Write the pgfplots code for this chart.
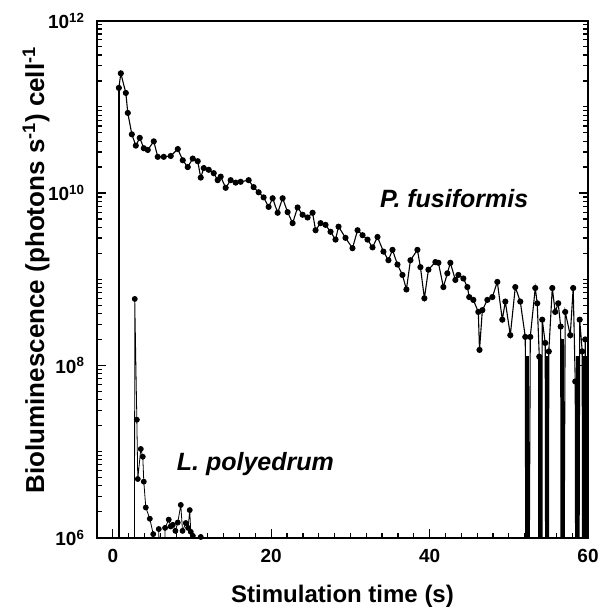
\documentclass[border=0pt]{standalone}
\usepackage{fontspec}
\setmainfont{Liberation Sans}
\usepackage{pgfplots}
\pgfplotsset{compat=1.18}
\pgfplotstableread{
x y
0.70 1e3
0.76 1.66e11
1.01 2.45e11
1.64 1.45e11
1.89 8.5e10
2.40 4.8e10
2.90 3.55e10
3.40 4.37e10
3.91 3.31e10
4.41 3.16e10
5.17 3.98e10
5.67 2.63e10
6.43 2.63e10
7.31 2.69e10
8.20 3.24e10
8.83 2.40e10
9.46 2.00e10
10.09 2.51e10
10.72 2.34e10
11.10 1.51e10
11.48 1.95e10
12.11 1.86e10
12.74 1.70e10
13.24 1.41e10
13.62 1.55e10
14.25 1.15e10
14.88 1.41e10
15.51 1.32e10
16.14 1.35e10
17.15 1.41e10
17.78 1.17e10
18.41 1.02e10
19.04 8.9e9
19.67 6.9e9
20.18 8.7e9
20.81 5.9e9
21.44 8.7e9
22.07 6.0e9
22.70 4.47e9
23.33 6.8e9
23.96 5.6e9
24.59 5.2e9
25.22 5.9e9
25.60 3.7e9
26.23 4.47e9
26.86 4.27e9
27.49 3.55e9
28.12 2.88e9
28.50 4.07e9
29.38 3.02e9
30.26 2.29e9
30.90 3.7e9
31.53 3.24e9
32.16 2.88e9
32.79 2.34e9
33.42 3.09e9
34.17 2.09e9
34.80 1.66e9
35.31 2.19e9
35.94 1.48e9
36.57 1.12e9
37.07 7.6e8
37.58 1.66e9
38.46 2.19e9
38.84 1.38e9
39.34 6.0e8
39.85 1.29e9
40.73 1.58e9
41.11 1.55e9
41.74 8.1e8
42.24 1.17e9
42.62 1.55e9
43.25 9.8e8
43.63 1.12e9
44.26 1.02e9
44.77 8.1e8
45.00 6.2e8
45.52 5.75e8
46.15 4.17e8
46.30 1.51e8
46.66 4.37e8
47.29 5.75e8
47.92 6.2e8
48.55 9.3e8
49.18 3.39e8
49.56 5.5e8
50.19 2.24e8
50.82 8.1e8
51.45 5.5e8
52.08 2.14e8
52.20 1e3
52.45 1e3
52.71 2.14e8
53.34 7.9e8
53.59 5.25e8
53.85 1.26e8
53.95 1e3
54.15 1e3
54.22 3.39e8
54.60 1.82e8
54.70 1e3
54.95 1e3
55.05 1.45e8
55.49 7.9e8
55.86 4.17e8
56.24 5.25e8
56.55 2.82e8
56.65 1e3
56.85 1e3
57.12 4.17e8
57.76 2.24e8
58.13 7.9e8
58.39 6.5e7
58.50 1e3
58.80 1e3
58.95 3.39e8
59.27 1.45e8
59.35 1e3
59.55 1e3
59.65 2.0e8
59.85 1e3
}\pfus
\pgfplotstableread{
x y
52.30 1.3e8
53.95 1.3e8
54.85 1.3e8
56.75 2.0e8
58.65 1.3e8
59.60 1.3e8
}\pbars
\pgfplotstableread{
x y
2.70 1e3
2.77 5.9e8
3.03 2.34e7
3.15 4.8e6
3.53 1.07e7
3.78 8.7e6
3.91 4.47e6
4.16 2.24e6
4.67 1.66e6
5.10 1.1e6
5.30 1e3
5.50 1e3
5.80 1.26e6
6.20 1e3
6.60 1.3e6
7.06 1.62e6
7.30 1.35e6
7.57 1.41e6
7.90 1.2e6
8.20 1.5e6
8.58 2.4e6
8.80 1.2e6
9.21 1.48e6
9.50 1.3e6
9.71 2.09e6
9.84 1.17e6
10.10 1.05e6
10.40 1e3
11.10 1.02e6
11.50 1e3
}\lpoly
\begin{document}
\begin{tikzpicture}
\useasboundingbox (-97pt,-75.3pt) rectangle (504pt,537.7pt);
\begin{axis}[
  scale only axis, width=491pt, height=517pt,
  ymode=log, xmin=-2, xmax=60, ymin=1e6, ymax=1e12,
  axis line style={line width=2pt},
  xtick={0,20,40,60}, xticklabels={0,20,40,60},
  minor xtick={2,4,...,58},
  ytick={1e6,1e8,1e10,1e12},
  yticklabels={10\textsuperscript{6},10\textsuperscript{8},10\textsuperscript{10},10\textsuperscript{12}},
  minor ytick={2e6,3e6,4e6,5e6,6e6,7e6,8e6,9e6,1e7,2e7,3e7,4e7,5e7,6e7,7e7,8e7,9e7,
    2e8,3e8,4e8,5e8,6e8,7e8,8e8,9e8,1e9,2e9,3e9,4e9,5e9,6e9,7e9,8e9,9e9,
    2e10,3e10,4e10,5e10,6e10,7e10,8e10,9e10,1e11,2e11,3e11,4e11,5e11,6e11,7e11,8e11,9e11},
  xtick pos=left, ytick pos=both,
  tick align=inside,
  major tick length=9pt, minor tick length=5pt,
  every tick/.style={black, line width=1.2pt},
  ticklabel style={font=\fontsize{19}{21}\selectfont\bfseries},
  xticklabel style={yshift=-8pt},
  yticklabel style={xshift=-9pt},
  xlabel={Stimulation time (s)},
  ylabel={Bioluminescence (photons s\textsuperscript{-1}) cell\textsuperscript{-1}},
  xlabel style={font=\fontsize{24}{28}\selectfont\bfseries, at={(axis description cs:0.5,0)}, anchor=center, yshift=-59pt},
  ylabel style={font=\fontsize{26}{30}\selectfont\bfseries, at={(axis description cs:0,0.5)}, anchor=center, xshift=9pt, yshift=61pt},
]
\addplot[black, ycomb, line width=3.5pt, mark=none] table[x=x,y=y] {\pbars};
\addplot[black, ycomb, line width=2.2pt, mark=none] coordinates {(0.76,1.6e11)};
\addplot[black, line width=1.1pt, mark=*, mark size=2.5pt] table[x=x,y=y] {\pfus};
\addplot[black, line width=0.8pt, mark=*, mark size=2.5pt] table[x=x,y=y] {\lpoly};
\node[font=\fontsize{25}{29}\selectfont\bfseries\itshape] at (axis cs:43.1,8.7e9) {P. fusiformis};
\node[font=\fontsize{25}{29}\selectfont\bfseries\itshape] at (axis cs:18.0,7.2e6) {L. polyedrum};
\end{axis}
\end{tikzpicture}
\end{document}
